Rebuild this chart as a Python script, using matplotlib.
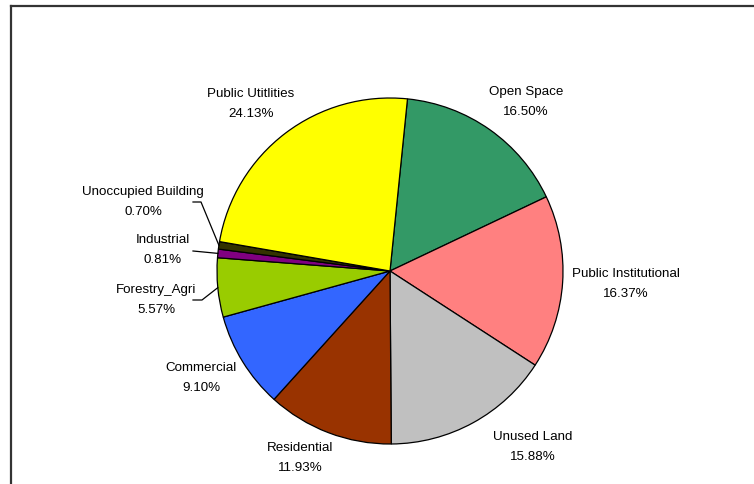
import matplotlib
matplotlib.use("Agg")
import matplotlib.pyplot as plt
import numpy as np
from matplotlib.lines import Line2D

plt.rcParams['font.family'] = ['Liberation Sans', 'DejaVu Sans']

categories = ["Open Space", "Public Institutional", "Unused Land", "Residential",
              "Commercial", "Forestry_Agri", "Industrial", "Unoccupied Building",
              "Public Utitlities"]
values = [16.50, 16.37, 15.88, 11.93, 9.10, 5.57, 0.81, 0.70, 24.13]
colors = ["#339966", "#FF8080", "#C0C0C0", "#993300", "#3366FF", "#99CC00",
          "#800080", "#333300", "#FFFF00"]

W, H = 754, 484
CX, CY, R = 390, 271, 173

fig = plt.figure(figsize=(W / 100, H / 100), dpi=100)
ax = fig.add_axes([0, 0, 1, 1])

wedges, _ = ax.pie(values, colors=colors, startangle=84.2, counterclock=False,
                   radius=1.0, center=(0, 0),
                   wedgeprops=dict(edgecolor='black', linewidth=0.9))
ax.set_xlim((0 - CX) / R, (W - CX) / R)
ax.set_ylim((CY - H) / R, (CY - 0) / R)
ax.set_aspect('equal')
ax.axis('off')

def px2d(px, py):
    return (px - CX) / R, (CY - py) / R

# label positions in pixels (center of text block)
label_pos = {
    "Open Space": (526, 102),
    "Public Institutional": (626, 284),
    "Unused Land": (533, 447),
    "Residential": (300, 458),
    "Commercial": (201, 378),
    "Forestry_Agri": (156, 300),
    "Industrial": (163, 250),
    "Unoccupied Building": (143, 202),
    "Public Utitlities": (251, 104),
}
# leader line starts (pixels) for small slices
leaders = {
    "Unoccupied Building": [(193, 202), (201, 202)],
    "Industrial": [(193, 251)],
    "Forestry_Agri": [(193, 300), (202, 300)],
}

for w, cat, val in zip(wedges, categories, values):
    x, y = px2d(*label_pos[cat])
    ax.text(x, y, f"{cat}\n{val:.2f}%", ha='center', va='center',
            fontsize=9.6, linespacing=1.8, color='black')
    if cat in leaders:
        mid = np.deg2rad((w.theta1 + w.theta2) / 2)
        ex, ey = np.cos(mid), np.sin(mid)
        pts = [px2d(*p) for p in leaders[cat]] + [(ex, ey)]
        xs, ys = zip(*pts)
        ax.add_line(Line2D(xs, ys, color='black', linewidth=0.9))

# outer chart frame (cropped at right and bottom)
fig.add_artist(Line2D([11 / W, 11 / W], [1 - 6 / H, -0.1], transform=fig.transFigure,
                      color='#333333', linewidth=1.6))
fig.add_artist(Line2D([11 / W, 1.1], [1 - 6 / H, 1 - 6 / H], transform=fig.transFigure,
                      color='#333333', linewidth=1.6))

fig.savefig("out.png", dpi=100)
